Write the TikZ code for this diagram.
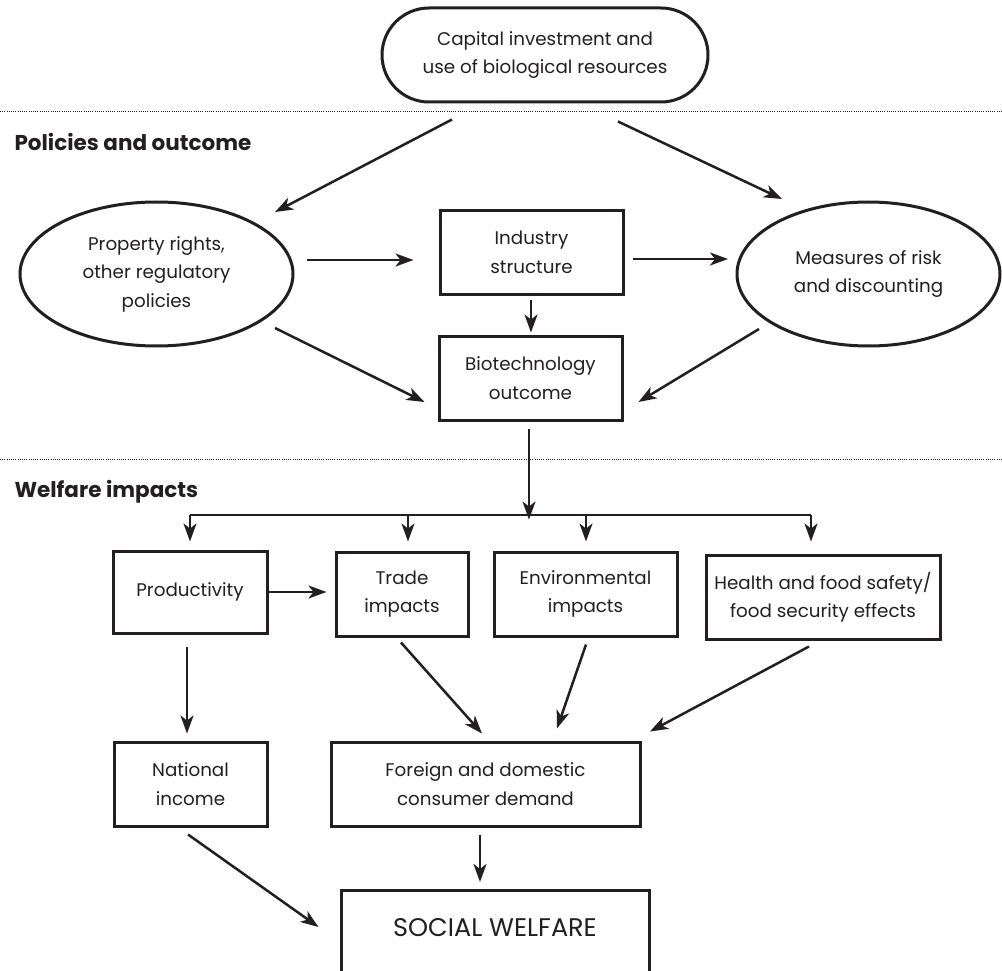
\documentclass[tikz,border=0pt]{standalone}
\usepackage{fontspec}
\setmainfont{Poppins}
\usetikzlibrary{arrows.meta,shapes.geometric,calc}
\definecolor{ink}{RGB}{35,31,32}
\begin{document}
\begin{tikzpicture}[x=1pt,y=-1pt,
  every node/.style={font=\fontsize{18.3}{28.5}\selectfont, text=ink, align=center},
  boxnode/.style={draw=ink, line width=3pt, rectangle, inner sep=0pt},
  ellnode/.style={draw=ink, line width=3pt, ellipse, inner sep=0pt},
  arr/.style={draw=ink, line width=2.5pt, -{Stealth[length=18pt,width=13pt,inset=5pt]}},
  barline/.style={draw=ink, line width=2.5pt},
  sep/.style={draw=ink, line width=1pt, dash pattern=on 1pt off 1.2pt},
  heading/.style={font=\fontsize{21.5}{26}\selectfont\bfseries, anchor=base west}]
\useasboundingbox (0,0) rectangle (1002,971);
\clip (0,0) rectangle (1002,971);
\fill[white] (0,0) rectangle (1002,971);

% separators
\coordinate (s1l) at (0,112);
\coordinate (s1r) at (1002,112);
\coordinate (s2l) at (0,459);
\coordinate (s2r) at (1002,459);
\draw[sep] (s1l) -- (s1r);
\draw[sep] (s2l) -- (s2r);

% headings
\node[heading] (h1) at (11,151) {Policies and outcome};
\node[heading] (h2) at (11,497) {Welfare impacts};

% nodes
\node[boxnode, rounded corners=47pt, minimum width=326pt, minimum height=94pt] (cap) at (545,55)
  {Capital investment and\\use of biological resources};
\node[ellnode, minimum width=273pt, minimum height=144pt] (prop) at (156.5,274)
  {Property rights,\\other regulatory\\policies};
\node[ellnode, minimum width=263pt, minimum height=144pt] (meas) at (868.5,274)
  {Measures of risk\\and discounting};
\node[boxnode, minimum width=183pt, minimum height=83pt] (ind) at (531.5,252.5)
  {Industry\\structure};
\node[boxnode, minimum width=183pt, minimum height=84pt] (bio) at (530.5,378)
  {Biotechnology\\outcome};
\node[boxnode, minimum width=154pt, minimum height=82pt] (prod) at (190,592)
  {Productivity};
\node[boxnode, minimum width=132pt, minimum height=84pt] (trade) at (402,594)
  {Trade\\impacts};
\node[boxnode, minimum width=183pt, minimum height=84pt] (env) at (585.5,594)
  {Environmental\\impacts};
\node[boxnode, minimum width=234pt, minimum height=84pt] (health) at (823,597)
  {Health and food safety/\\food security effects};
\node[boxnode, minimum width=153pt, minimum height=84pt] (nat) at (190.5,784)
  {National\\income};
\node[boxnode, minimum width=309pt, minimum height=84pt] (foreign) at (485.5,784)
  {Foreign and domestic\\consumer demand};
\node[boxnode, anchor=north, minimum width=308pt, minimum height=160pt] (swbox) at (495,889) {};
\node[font=\fontsize{25.5}{30}\selectfont] (sw) at (495,928) {SOCIAL WELFARE};

% connectors, upper part
\draw[arr] ($(cap.south)+(-93,16)$) -- ($(prop.center)+(118.5,-62)$);
\draw[arr] ($(cap.south)+(73,18)$) -- ($(meas.center)+(-86.5,-75)$);
\draw[arr] ($(prop.east)+(12,-14)$) -- ($(ind.west)+(-25,7.5)$);
\draw[arr] ($(ind.east)+(8,6.5)$) -- ($(meas.west)+(-7.5,-15)$);
\draw[arr] ($(ind.south)+(-0.5,4)$) -- ($(bio.north)+(0.5,-2)$);
\draw[arr] ($(prop.center)+(118.5,54)$) -- ($(bio.west)+(-13,24)$);
\draw[arr] ($(meas.center)+(-109.5,55)$) -- ($(bio.east)+(15,24)$);

% distribution bar
\coordinate (barL) at (190,515);
\coordinate (barR) at (811,515);
\draw[arr] ($(bio.south)+(-1.5,7)$) -- ($(bio.south)+(-1.5,98)$);
\draw[barline] (barL) -- (barR);
\draw[arr] (barL) -- ($(prod.north)+(0,-8)$);
\draw[arr] ($(barL -| trade.north)+(6,0)$) -- ($(trade.north)+(6,-9)$);
\draw[arr] ($(barL -| env.north)+(0.5,0)$) -- ($(env.north)+(0.5,-9)$);
\draw[arr] (barR) -- ($(health.north)+(-12,-12)$);

% connectors, lower part
\draw[arr] (prod.east) -- ($(trade.west)+(-8,-2)$);
\draw[arr] ($(prod.south)+(-3,12)$) -- ($(nat.north)+(-3.5,-7)$);
\draw[arr] ($(trade.south)+(-1,5)$) -- ($(foreign.north)+(-3.5,-7)$);
\draw[arr] ($(env.south)+(0.5,7)$) -- ($(foreign.north)+(71.5,-12)$);
\draw[arr] ($(health.south)+(-14,6)$) -- ($(foreign.north)+(164.5,-9)$);
\draw[arr] ($(nat.south)+(-2.5,7)$) -- ($(swbox.north west)+(-21,38)$);
\draw[arr] ($(foreign.south)+(-5.5,7)$) -- ($(swbox.north)+(-15,-7)$);
\end{tikzpicture}
\end{document}
